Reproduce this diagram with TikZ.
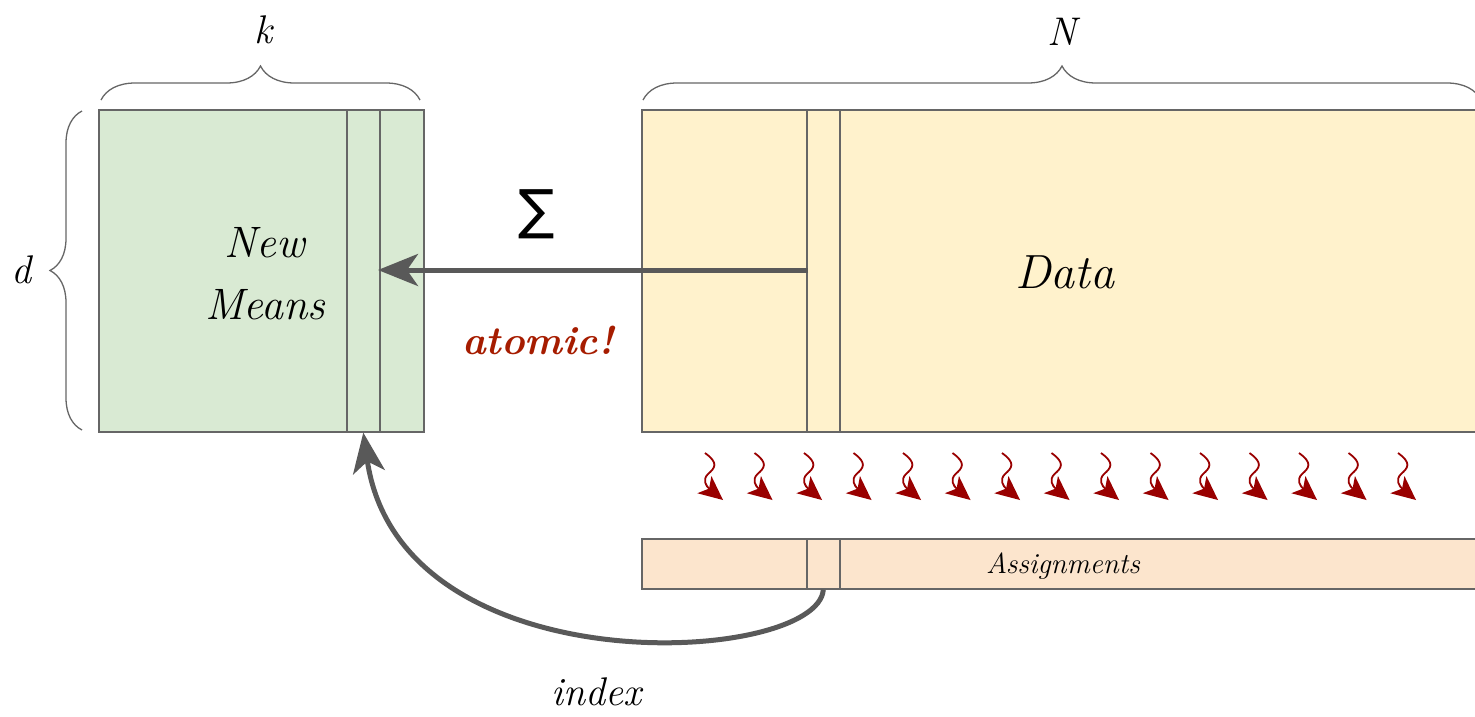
\documentclass[tikz,border=0pt]{standalone}
\usepackage{fontspec}
\newfontfamily\symfont{DejaVu Sans}
\usetikzlibrary{arrows.meta,decorations.pathreplacing}
\definecolor{boxline}{HTML}{666666}
\definecolor{arrowgray}{HTML}{595959}
\definecolor{greenfill}{HTML}{D9EAD3}
\definecolor{yellowfill}{HTML}{FFF2CC}
\definecolor{orangefill}{HTML}{FCE5CD}
\definecolor{squigred}{HTML}{990000}
\definecolor{atomicred}{HTML}{A61C00}
\tikzset{
  box/.style={draw=boxline, line width=1.6pt, anchor=north west, inner sep=0pt},
  colbox/.style={draw=boxline, line width=1.6pt, anchor=north west, inner sep=0pt, minimum width=33pt},
  bracestyle/.style={draw=boxline, line width=1.3pt, decorate, decoration={brace, amplitude=34pt, aspect=0.5}},
  lbl/.style={font=\fontsize{40}{44}\selectfont\itshape, inner sep=0pt},
  bigarrow/.style={draw=arrowgray, line width=5pt, -{Stealth[length=40pt, width=32pt, inset=11pt]}},
  squig/.style={draw=squigred, line width=1.8pt, -{Stealth[length=24pt, width=22pt, inset=6pt]}}
}
\begin{document}
\begin{tikzpicture}[x=1pt, y=-1pt]
\useasboundingbox (0,0) rectangle (1475,716);
% boxes
\node[box, fill=greenfill, minimum width=325pt, minimum height=322pt] (means) at (98,109) {};
\node[colbox, fill=greenfill, minimum height=322pt] (meanscol) at (346,109) {};
\node[box, fill=yellowfill, minimum width=840pt, minimum height=322pt] (data) at (641,109) {};
\node[colbox, fill=yellowfill, minimum height=322pt] (datacol) at (806,109) {};
\node[box, fill=orangefill, minimum width=840pt, minimum height=50pt] (assign) at (641,538) {};
\node[colbox, fill=orangefill, minimum height=50pt] (assigncol) at (806,538) {};
% braces
\draw[bracestyle] (101,100) -- (420,100);
\draw[bracestyle] (643,100) -- (1481,100);
\draw[bracestyle, decoration={brace, amplitude=32pt}] (82,430) -- (82,111);
% labels
\node[lbl] (klbl) at (263,30) {k};
\node[lbl] (nlbl) at (1062,32) {N};
\node[lbl] (dlbl) at (22,270) {d};
\node[lbl, align=center, font=\fontsize{44}{62}\selectfont\itshape] (meanslbl) at (265,274) {New\\Means};
\node[lbl, font=\fontsize{48}{52}\selectfont\itshape] (datalbl) at (1065,272) {Data};
\node[lbl, font=\fontsize{29}{32}\selectfont\itshape] (assignlbl) at (1063,566) {Assignments};
\node[lbl, font=\fontsize{40}{44}\selectfont\itshape] (indexlbl) at (596,692) {index};
\node[lbl, text=atomicred, font=\fontsize{40}{44}\selectfont\bfseries\itshape] (atomiclbl) at (538,340) {atomic!};
\node[inner sep=0pt, font=\fontsize{54}{58}\selectfont\symfont] (sigma) at (537,214) {∑};
% arrows
\coordinate (src) at (808,270);
\coordinate (dst) at (378,270);
\draw[bigarrow] (src) -- (dst);
\draw[bigarrow] (assigncol.south) .. controls (818,665) and (400,690) .. (meanscol.south);
% squiggly arrows
\foreach \i in {0,...,14} {
  \pgfmathsetmacro{\xx}{705+49.5*\i}
  \draw[squig] (\xx,453) .. controls (\xx+14,463) and (\xx+10,468) .. (\xx+3,474)
     .. controls (\xx-3,480) and (\xx+1,486) .. (\xx+18,500);
}
\end{tikzpicture}
\end{document}
